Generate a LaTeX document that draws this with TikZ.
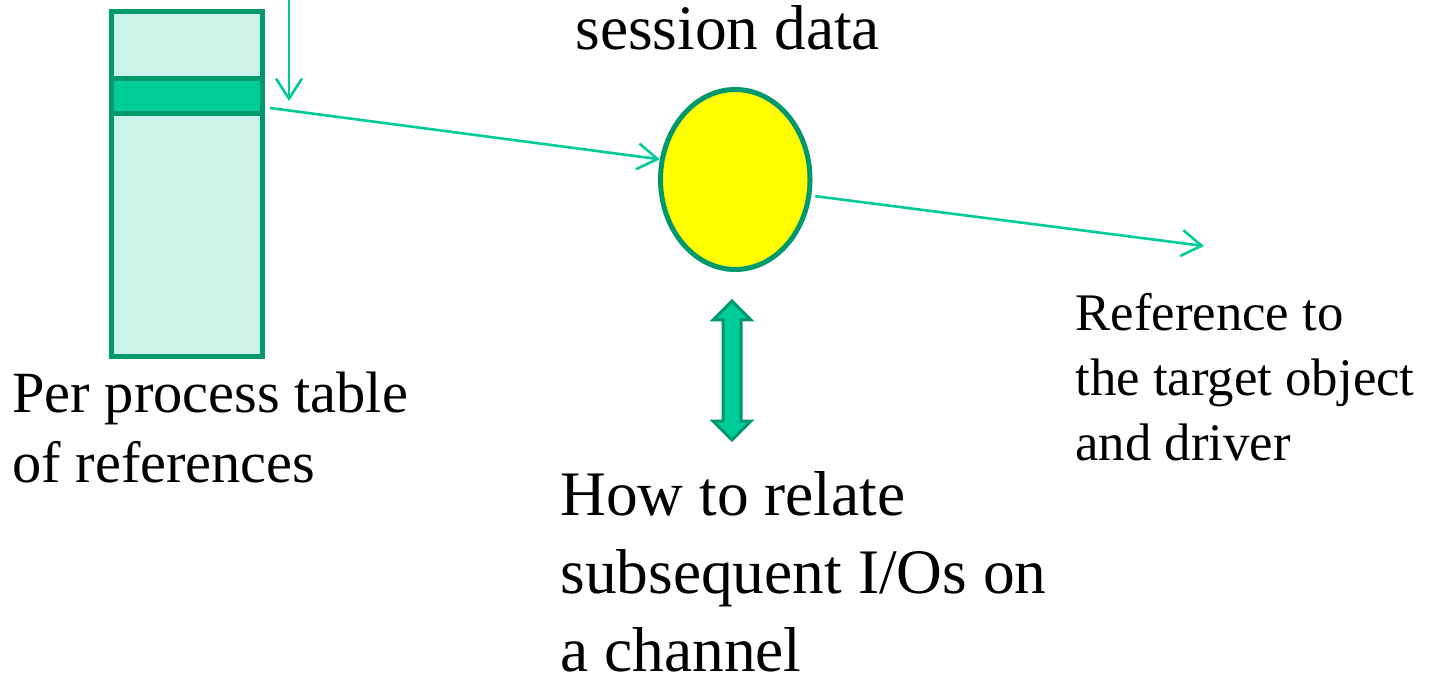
\documentclass[tikz,border=0pt]{standalone}
\usepackage{fontspec}
\setmainfont{Liberation Serif}
\usetikzlibrary{shapes.geometric,arrows.meta}
\definecolor{dkgreen}{RGB}{0,153,110}
\definecolor{brgreen}{RGB}{0,204,153}
\definecolor{mint}{RGB}{204,243,232}
\definecolor{ellyellow}{RGB}{255,255,0}
\begin{document}
\begin{tikzpicture}[x=0.5pt,y=-0.5pt,
  thinarrow/.style={draw=brgreen,line width=1.3pt,-{Straight Barb[length=10pt,width=13pt,line width=1.3pt]}},
  lbl/.style={anchor=base west,inner sep=0pt,align=left,text=black},
  bigtext/.style={font=\fontsize{31.7pt}{39pt}\selectfont},
  midtext/.style={font=\fontsize{29.2pt}{35pt}\selectfont},
  smalltext/.style={font=\fontsize{26.4pt}{32.5pt}\selectfont}]
\useasboundingbox (0,0) rectangle (1433,673);
% table
\node[draw=dkgreen,fill=mint,line width=2.5pt,inner sep=0pt,minimum width=75.5pt,minimum height=172.25pt] (table) at (187,183.75) {};
\node[draw=dkgreen,fill=brgreen,line width=2.5pt,inner sep=0pt,minimum width=75.5pt,minimum height=17.85pt] (row) at (187,96.15) {};
% ellipse
\node[ellipse,draw=dkgreen,fill=ellyellow,line width=2.5pt,inner sep=0pt,minimum width=74.75pt,minimum height=90pt] (ell) at (735.25,179.5) {};
% connectors
\coordinate (topin) at (289,-5);
\coordinate (topend) at (289,101);
\draw[thinarrow] (topin) -- (topend);
\coordinate (rowout) at (270,108);
\draw[thinarrow] (rowout) -- (ell.165);
\coordinate (refend) at (1204,246);
\draw[thinarrow,shorten <=2pt] (ell.-12) -- (refend);
% double arrow
\draw[dkgreen,fill=brgreen,line width=1.5pt,line join=miter]
  (732,301) -- (713,320) -- (723,320) -- (723,421) -- (713,421) -- (732,440)
  -- (751,421) -- (741,421) -- (741,320) -- (751,320) -- cycle;
% texts
\node[lbl,bigtext] (sess) at (575,50) {session data};
\node[lbl,midtext] (ptab) at (12,482) {Per process table\\of references};
\node[lbl,smalltext] (ref) at (1075,460) {Reference to\\the target object\\and driver};
\node[lbl,bigtext] (how) at (560,671) {How to relate\\subsequent I/Os on\\a channel};
\end{tikzpicture}
\end{document}
